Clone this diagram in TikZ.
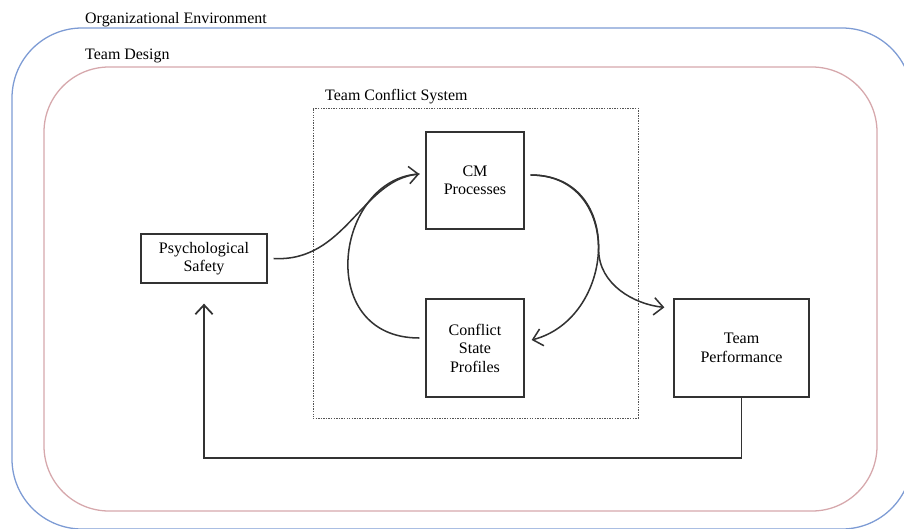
\documentclass[tikz,border=0pt]{standalone}
\usepackage{fontspec}
\setmainfont{Liberation Serif}
\usetikzlibrary{arrows.meta,calc}
\definecolor{envblue}{RGB}{125,155,212}
\definecolor{designpink}{RGB}{214,168,172}
\definecolor{linegray}{RGB}{50,50,50}
\definecolor{dashgray}{RGB}{85,85,85}
\begin{document}
\begin{tikzpicture}[x=0.03cm,y=-0.03cm,
  lbl/.style={inner sep=0pt, font=\fontsize{13.6}{15.8}\selectfont, text=black},
  box/.style={draw=linegray, line width=1.1pt, fill=white, inner sep=0pt, align=center,
              font=\fontsize{13.7}{15.8}\selectfont, text=black},
  conn/.style={draw=linegray, line width=1.3pt, -{Straight Barb[length=2.8mm,width=5.2mm]}},
  plainconn/.style={draw=linegray, line width=1.3pt},
  sysbox/.style={draw=dashgray, line width=0.7pt, dash pattern=on 1.2pt off 1pt, inner sep=0pt}
]
\useasboundingbox (0,0) rectangle (904,528);
% environment frames
\draw[envblue, line width=1.1pt, rounded corners=2.1cm] (12,28) rectangle (912,529);
\draw[designpink, line width=1.1pt, rounded corners=1.95cm] (44,67) rectangle (877,511);
% labels
\node[lbl, anchor=base west] (orgl) at (85,23) {Organizational Environment};
\node[lbl, anchor=base west] (tdl) at (85,59) {Team Design};
\node[lbl, anchor=base west] (tcsl) at (325,100) {Team Conflict System};
% team conflict system
\node[sysbox, minimum width=9.75cm, minimum height=9.3cm] (tcs) at (475.5,263) {};
% boxes
\node[box, minimum width=3.78cm, minimum height=1.47cm] (ps) at (204,258.5) {Psychological\\Safety};
\node[box, minimum width=2.94cm, minimum height=2.91cm] (cm) at (475,180.5) {CM\\Processes};
\node[box, minimum width=2.94cm, minimum height=2.94cm] (csp) at (475,348) {Conflict\\State\\Profiles};
\node[box, minimum width=4.05cm, minimum height=2.94cm] (tp) at (741.5,348) {Team\\Performance};
\coordinate (split) at ($(cm.east)+(74,69)$);
% connectors
\draw[conn] ($(ps.east)+(6,0)$) .. controls +(72,4) and +(-58,6) .. ($(cm.west)+(-6,-6.5)$);
\draw[plainconn] ($(csp.west)+(-6,-10)$) .. controls +(-106,0) and +(-84,4) .. ($(cm.west)+(-6,-6.5)$);
\draw[conn] ($(cm.east)+(6,-5.5)$) .. controls +(95,0) and +(84,-22) .. ($(csp.east)+(7,-8)$);
\draw[conn] ($(cm.east)+(6,-5.5)$) .. controls +(45,0) and +(0,-40) .. (split)
  .. controls +(0,35) and +(-30,-3) .. ($(tp.north west)+(-9,9)$);
\draw[conn, line width=1.5pt] (tp.south) -- ++(0,60) -| ($(ps.south)+(0,20)$);
\end{tikzpicture}
\end{document}
